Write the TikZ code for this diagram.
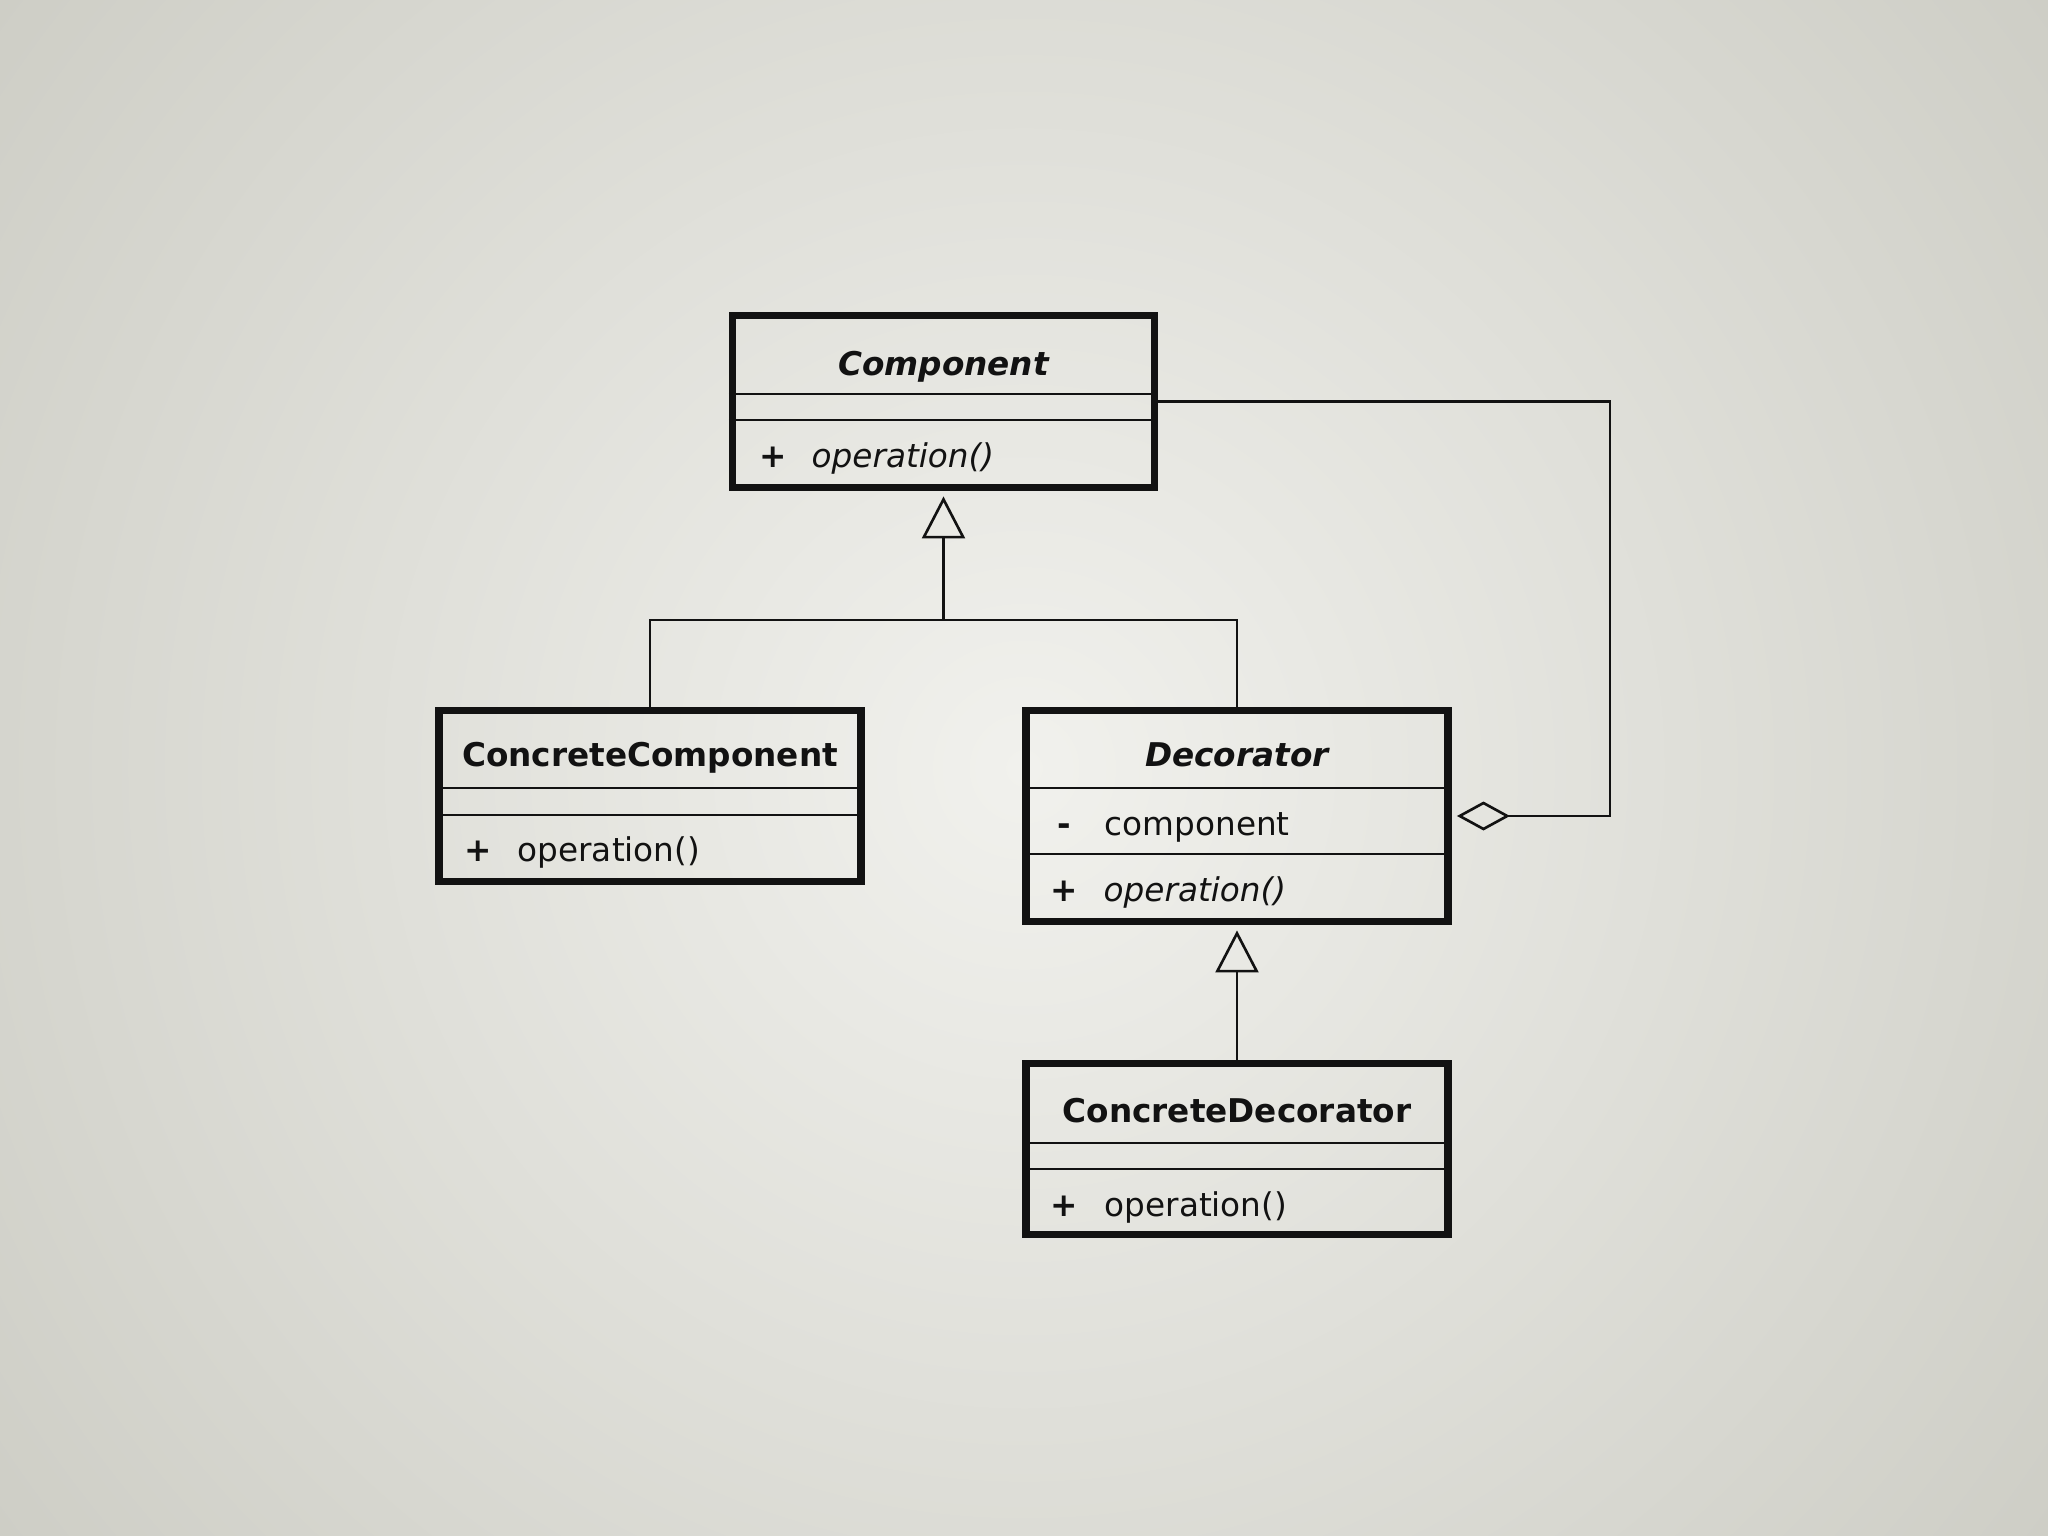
\documentclass[tikz,border=0pt]{standalone}
\usepackage{fontspec}
\setmainfont{DejaVu Sans}
\usetikzlibrary{arrows.meta,calc,positioning}
\definecolor{umlbgin}{RGB}{241,241,237}
\definecolor{umlbgout}{RGB}{206,206,198}
\definecolor{umlink}{RGB}{18,18,18}
\newcommand{\umlfont}{\fontsize{9.3}{11}\selectfont}

\begin{document}
\begin{tikzpicture}[font=\umlfont,
    classbox/.style={draw=umlink,line width=2.1pt,minimum width=4.22cm,inner sep=0pt},
    divider/.style={draw=umlink,line width=0.75pt},
    link/.style={draw=umlink,line width=0.75pt},
    inherit/.style={link,shorten >=1.5pt,-{Triangle[open,length=0.42cm,width=0.43cm]}},
    aggreg/.style={link,shorten <=1.5pt,{Diamond[open,length=0.53cm,width=0.29cm]}-},
    title/.style={anchor=base,text=umlink,font=\umlfont\bfseries},
    vis/.style={anchor=base,text=umlink,font=\umlfont\bfseries},
    member/.style={anchor=base west,inner xsep=0pt,text=umlink}]
  \useasboundingbox (0,0) rectangle (20.48,-15.36);
  \begin{scope}
    \clip (0,0) rectangle (20.48,-15.36);
    \shade[inner color=umlbgin,outer color=umlbgout] (10.24,-7.68) circle (12.8cm);
  \end{scope}

  \node[classbox,minimum height=1.72cm] (comp) at (9.435,-4.015) {};
  \node[classbox,minimum height=1.71cm] (ccomp) at (6.50,-7.96) {};
  \node[classbox,minimum height=2.11cm] (dec) at (12.37,-8.16) {};
  \node[classbox,minimum height=1.71cm] (cdec) at (12.37,-11.49) {};

  \foreach \y in {-3.94,-4.20} \draw[divider] (comp.west |- 0,\y) -- (comp.east |- 0,\y);
  \foreach \y in {-7.88,-8.15} \draw[divider] (ccomp.west |- 0,\y) -- (ccomp.east |- 0,\y);
  \foreach \y in {-7.88,-8.54} \draw[divider] (dec.west |- 0,\y) -- (dec.east |- 0,\y);
  \foreach \y in {-11.43,-11.69} \draw[divider] (cdec.west |- 0,\y) -- (cdec.east |- 0,\y);

  \node[title,font=\umlfont\bfseries\itshape] (compname) at (9.435,-3.76) {Component};
  \node[vis] (compvis) at (7.73,-4.67) {+};
  \node[member,font=\umlfont\itshape] (compop) at (8.11,-4.67) {operation()};

  \node[title] (ccompname) at (6.50,-7.67) {ConcreteComponent};
  \node[vis] (ccompvis) at (4.78,-8.62) {+};
  \node[member] (ccompop) at (5.17,-8.62) {operation()};

  \node[title,font=\umlfont\bfseries\itshape] (decname) at (12.37,-7.67) {Decorator};
  \node[vis] (decvisa) at (10.64,-8.35) {-};
  \node[member] (decattr) at (11.04,-8.35) {component};
  \node[vis] (decvisb) at (10.64,-9.01) {+};
  \node[member,font=\umlfont\itshape] (decop) at (11.03,-9.01) {operation()};

  \node[title] (cdecname) at (12.37,-11.22) {ConcreteDecorator};
  \node[vis] (cdecvis) at (10.64,-12.16) {+};
  \node[member] (cdecop) at (11.04,-12.16) {operation()};

  \coordinate (fork) at (9.435,-6.20);
  \coordinate (loop) at (16.10,-4.015);
  \draw[link] (ccomp.north) |- (fork) -| (dec.north);
  \draw[inherit] (fork) -- (comp.south);
  \draw[inherit] (cdec.north) -- (dec.south);
  \draw[aggreg] (dec.east) -| (loop) -- (comp.east);
\end{tikzpicture}
\end{document}
